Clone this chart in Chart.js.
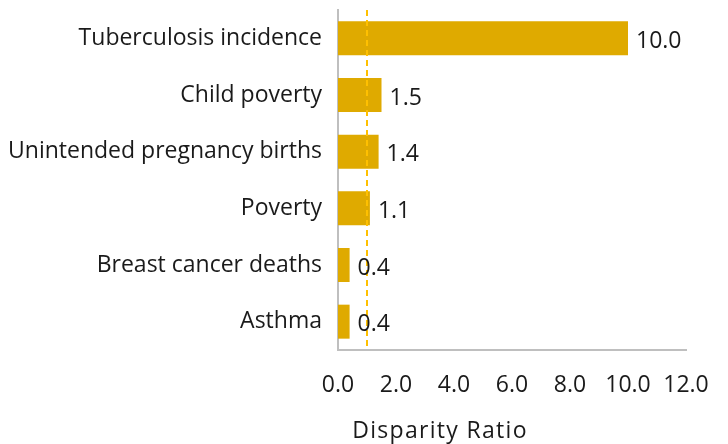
<!DOCTYPE html>
<html>
<head>
<meta charset="utf-8">
<script src="https://cdn.jsdelivr.net/npm/chart.js@4"></script>
<style>
  html, body { margin: 0; padding: 0; background: #fff; }
  #wrap { width: 728px; height: 444px; }
</style>
</head>
<body>
<div id="wrap"><canvas id="ratioChart" width="728" height="444"></canvas></div>
<script>
// Показатели и значения коэффициента
const categories = ["Tuberculosis incidence", "Child poverty", "Unintended pregnancy births", "Poverty", "Breast cancer deaths", "Asthma"];
const ratios = [10.0, 1.5, 1.4, 1.1, 0.4, 0.4];
const xTicks = [0, 2, 4, 6, 8, 10, 12];
const referenceRatio = 1.0;

const FONT = "'Open Sans', 'Noto Sans', sans-serif";
const SIZE = 23;
const TEXT = "#1a1a1a";

// Подписи значений справа от столбцов, пунктир на 1.0 и подпись оси
const extras = {
    id: "extras",
    afterDatasetsDraw(chart) {
        const ctx = chart.ctx;
        const x = chart.scales.x;
        const area = chart.chartArea;

        // пунктирная линия
        const lx = x.getPixelForValue(referenceRatio);
        ctx.save();
        ctx.strokeStyle = "#FFC000";
        ctx.lineWidth = 2;
        ctx.setLineDash([6, 4]);
        ctx.beginPath();
        ctx.moveTo(lx, area.top);
        ctx.lineTo(lx, area.bottom);
        ctx.stroke();
        ctx.restore();

        // значения
        const meta = chart.getDatasetMeta(0);
        ctx.save();
        ctx.font = SIZE + "px " + FONT;
        ctx.fillStyle = TEXT;
        ctx.textBaseline = "middle";
        ctx.textAlign = "left";
        meta.data.forEach(function(bar, i) {
            ctx.fillText(ratios[i].toFixed(1), bar.x + 8, bar.y + 3);
        });
        ctx.restore();
    },
    afterDraw(chart) {
        const ctx = chart.ctx;
        ctx.save();
        ctx.font = SIZE + "px " + FONT;
        ctx.fillStyle = TEXT;
        ctx.textAlign = "center";
        ctx.textBaseline = "middle";
        if ("letterSpacing" in ctx) ctx.letterSpacing = "1.3px";
        ctx.fillText("Disparity Ratio", chart.scales.x.left + 102, 431);
        ctx.restore();
    }
};

// без автоматических отступов от подписей
function noPad(scale) {
    scale.paddingTop = 0;
    scale.paddingBottom = 0;
    scale.paddingLeft = 0;
    scale.paddingRight = 0;
}

new Chart(document.getElementById("ratioChart"), {
    type: "bar",
    data: {
        labels: categories,
        datasets: [{
            data: ratios,
            backgroundColor: "#DFAA00",
            borderWidth: 0,
            barPercentage: 0.6,
            categoryPercentage: 1.0
        }]
    },
    options: {
        indexAxis: "y",
        responsive: false,
        animation: false,
        layout: { padding: { top: 10, right: 42, left: 0, bottom: 0 } },
        plugins: {
            legend: { display: false },
            tooltip: { enabled: false }
        },
        scales: {
            x: {
                min: 0,
                max: 12,
                afterBuildTicks(scale) {
                    scale.ticks = xTicks.map(v => ({ value: v }));
                },
                afterFit(scale) { scale.height = 94; noPad(scale); },
                grid: { display: false, drawTicks: false },
                border: { display: true, color: "#BFBFBF", width: 2 },
                ticks: {
                    padding: 22,
                    maxRotation: 0,
                    autoSkip: false,
                    color: TEXT,
                    font: { family: FONT, size: SIZE },
                    callback: v => v.toFixed(1)
                }
            },
            y: {
                afterFit(scale) { scale.width = 338; noPad(scale); },
                grid: { display: false, drawTicks: false },
                border: { display: true, color: "#BFBFBF", width: 2 },
                ticks: {
                    padding: 16,
                    color: TEXT,
                    font: { family: FONT, size: SIZE }
                }
            }
        }
    },
    plugins: [extras]
});
</script>
</body>
</html>
